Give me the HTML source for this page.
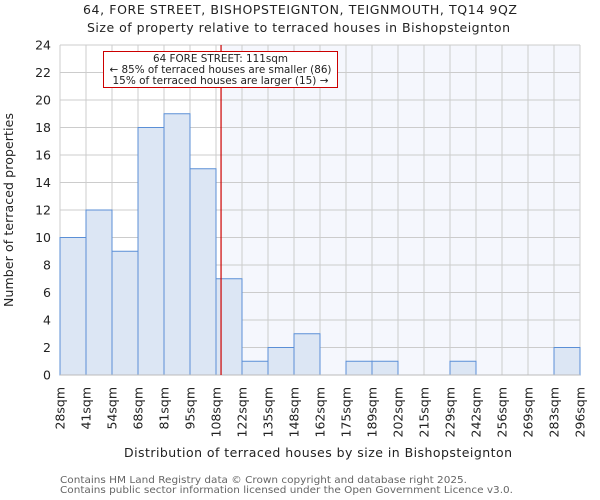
<!DOCTYPE html>
<html><head><meta charset="utf-8"><style>
body{margin:0;background:#fff}
svg{display:block;font-family:"DejaVu Sans","Liberation Sans",sans-serif}
</style></head><body>
<svg id="c" width="600" height="500" xmlns="http://www.w3.org/2000/svg">
<text x="83" y="14" textLength="434" lengthAdjust="spacing" font-size="12.5" fill="#222">64, FORE STREET, BISHOPSTEIGNTON, TEIGNMOUTH, TQ14 9QZ</text>
<text x="87" y="32" textLength="423" lengthAdjust="spacing" font-size="12.5" fill="#222">Size of property relative to terraced houses in Bishopsteignton</text>
<g id="plot"></g>
<text x="124" y="457" textLength="388" lengthAdjust="spacing" font-size="12.5" fill="#222">Distribution of terraced houses by size in Bishopsteignton</text>
<text transform="translate(13,307) rotate(-90)" textLength="194" lengthAdjust="spacing" font-size="12.5" fill="#222">Number of terraced properties</text>
<text x="60" y="483" textLength="407" lengthAdjust="spacingAndGlyphs" font-size="10" fill="#666">Contains HM Land Registry data © Crown copyright and database right 2025.</text>
<text x="60" y="493" textLength="453" lengthAdjust="spacingAndGlyphs" font-size="10" fill="#666">Contains public sector information licensed under the Open Government Licence v3.0.</text>
</svg>
<script>
const categories=["28sqm","41sqm","54sqm","68sqm","81sqm","95sqm","108sqm","122sqm","135sqm","148sqm","162sqm","175sqm","189sqm","202sqm","215sqm","229sqm","242sqm","256sqm","269sqm","283sqm","296sqm"];
const counts=[10,12,9,18,19,15,7,1,2,3,0,1,1,0,0,1,0,0,0,2];
const yTicks=[0,2,4,6,8,10,12,14,16,18,20,22,24];
const binStart=28, binEnd=296, propertySize=111;
const X0=60,X1=580,Y0=375,Y1=45,NS="http://www.w3.org/2000/svg";
const bw=(X1-X0)/counts.length;
const x=i=>X0+i*bw;
const xv=v=>X0+(v-binStart)/(binEnd-binStart)*(X1-X0);
const y=v=>Y0-(v/24)*(Y0-Y1);
const g=document.getElementById('plot');
function mk(t,a){const e=document.createElementNS(NS,t);for(const k in a)e.setAttribute(k,a[k]);g.appendChild(e);return e;}
const px=xv(propertySize);
let e=mk('rect',{x:X0,y:Y1,width:X1-X0,height:Y0-Y1,fill:'#fff'});


e=mk('rect',{x:px,y:Y1,width:X1-px,height:Y0-Y1,fill:'#f5f7fd'});


for(let i=0;i<=counts.length;i++){e=mk('line',{x1:x(i),x2:x(i),y1:Y1,y2:Y0,stroke:'#ccc','stroke-width':1});

}
yTicks.forEach(t=>{e=mk('line',{x1:X0,x2:X1,y1:y(t),y2:y(t),stroke:'#ccc','stroke-width':1});


const l=mk('text',{x:X0-9,y:y(t)+4.5,'text-anchor':'end','font-size':12.5,fill:'#222'});l.textContent=t;

});
counts.forEach((c,i)=>{if(c<=0)return;const r=mk('rect',{x:x(i),y:y(c),width:bw,height:Y0-y(c),fill:'#dce6f4',stroke:'#5b8fd6','stroke-width':1});

});
categories.forEach((c,i)=>{const t=mk('text',{transform:`translate(${x(i)+4.5},${Y0+12}) rotate(-90)`,'text-anchor':'end','font-size':12.5,fill:'#222'});t.textContent=c;

});
e=mk('line',{x1:X0,x2:X1,y1:Y0,y2:Y0,stroke:'#bbb','stroke-width':1});


e=mk('line',{x1:px,x2:px,y1:Y1,y2:Y0,stroke:'#cc0000','stroke-width':1.2});


e=mk('rect',{x:103.5,y:51.5,width:234,height:36,fill:'#fff',stroke:'#cc0000','stroke-width':1});


const ann=[["64 FORE STREET: 111sqm",135],["← 85% of terraced houses are smaller (86)",222],["15% of terraced houses are larger (15) →",216]];
ann.forEach((s,k)=>{const t=mk('text',{x:220.5-s[1]/2,y:62+k*11,textLength:s[1],lengthAdjust:'spacingAndGlyphs','font-size':10.5,fill:'#222'});t.textContent=s[0];

});
</script>
</body></html>
